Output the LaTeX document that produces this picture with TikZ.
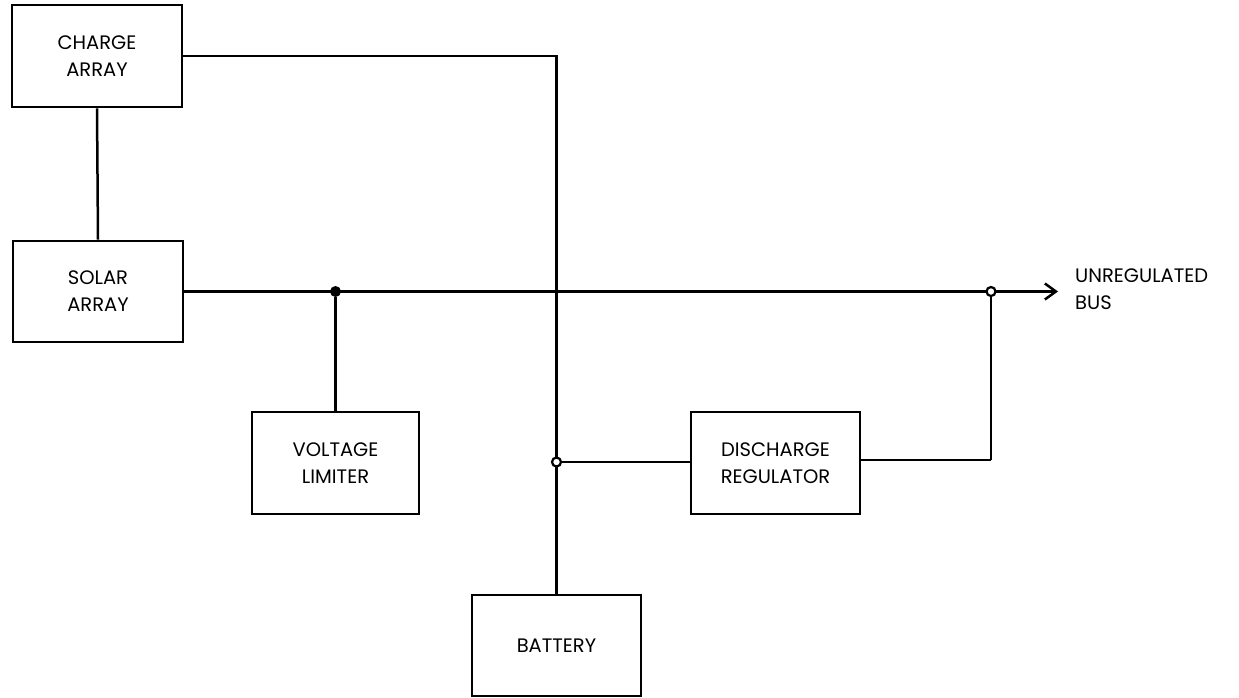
\documentclass[tikz,border=0pt]{standalone}
\usepackage{fontspec}
\setmainfont{Poppins}
\usetikzlibrary{arrows.meta}
\begin{document}
\begin{tikzpicture}[x=1pt,y=-1pt,
  blockbox/.style={draw=black, line width=2.8pt, rectangle, fill=white,
    align=center, font=\fontsize{19.5}{27}\selectfont, inner sep=0pt},
  wire/.style={draw=black, line width=2.5pt},
  thinwire/.style={draw=black, line width=2pt},
  soliddot/.style={circle, fill=black, minimum size=11pt, inner sep=0pt},
  opendot/.style={circle, draw=black, fill=white, line width=2.2pt, minimum size=9pt, inner sep=0pt},
  lbl/.style={font=\fontsize{19.5}{27}\selectfont, align=left, inner sep=0pt}]
\useasboundingbox (0,0) rectangle (1239,697);
\fill[white] (0,0) rectangle (1239,697);

% blocks
\node[blockbox, minimum width=170pt, minimum height=102pt] (charge) at (97,56) {CHARGE\\ARRAY};
\node[blockbox, minimum width=170pt, minimum height=101pt] (solar) at (98,291.5) {SOLAR\\ARRAY};
\node[blockbox, minimum width=167pt, minimum height=102pt] (volt) at (335.5,463) {VOLTAGE\\LIMITER};
\node[blockbox, minimum width=169pt, minimum height=102pt] (disch) at (775.5,463) {DISCHARGE\\REGULATOR};
\node[blockbox, minimum width=169pt, minimum height=101pt] (batt) at (556.5,645.5) {BATTERY};

% coordinates
\coordinate (busend) at (1058,291.5);
\coordinate (chargecorner) at (556.5,56);

% connectors
\draw[wire] (charge.south) -- (solar.north);
\draw[wire] (charge.east) -- (chargecorner) -- (batt.north);
\draw[wire, -{Straight Barb[length=11pt, width=16pt, line width=2.5pt]}] (solar.east) -- (busend);

\node[soliddot] (jv) at (volt.north |- solar.east) {};
\draw[wire] (jv) -- (volt.north);

\node[opendot] (jb) at (batt.north |- 0,462) {};
\draw[wire] (jb) -- (disch.west |- jb);

\node[opendot] (jo) at (991,291.5) {};
\draw[wire] (disch.east |- 0,460) -- (991,460) coordinate (rc);
\draw[thinwire] (rc) -- (jo);

% label
\node[lbl, anchor=west] (ublabel) at (1075,289) {UNREGULATED\\BUS};
\end{tikzpicture}
\end{document}
